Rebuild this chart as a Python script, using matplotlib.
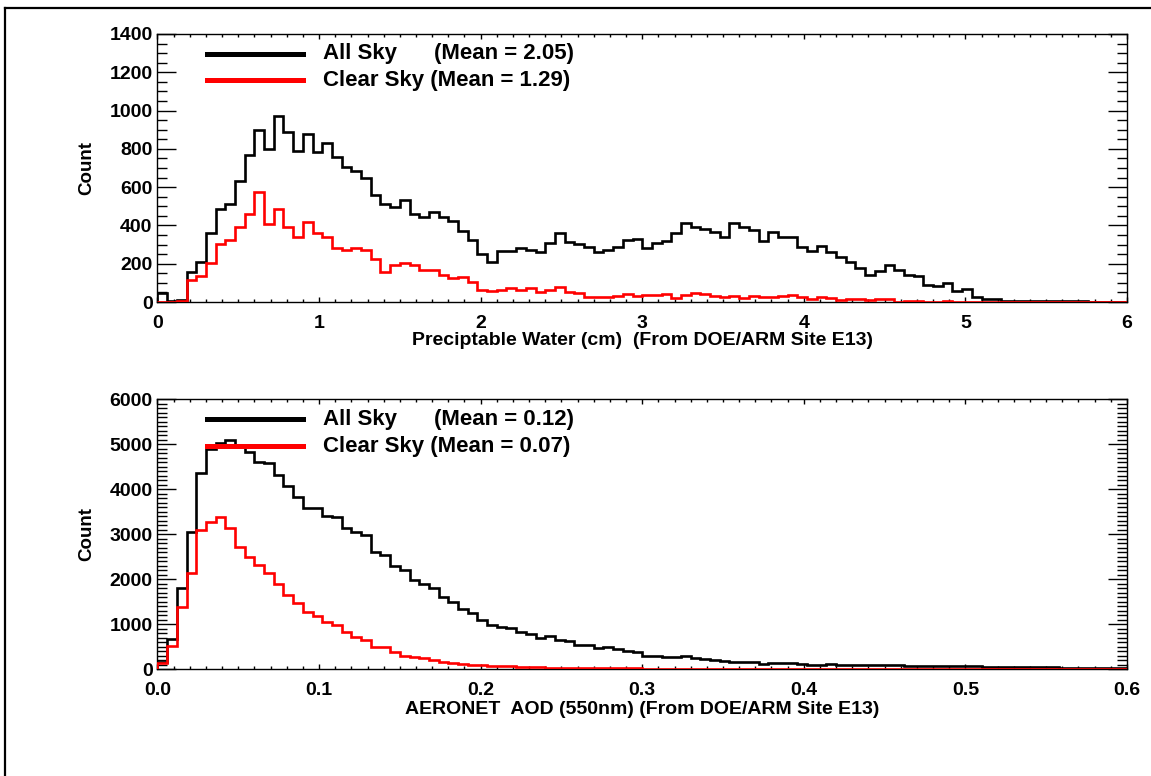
import numpy as np
import matplotlib
matplotlib.use('Agg')
import matplotlib.pyplot as plt
import matplotlib.lines as mlines
from matplotlib.ticker import MultipleLocator, FormatStrFormatter

#%%

# histogram counts (100 bins each)

pw_range = [0, 6]
pw_all = [47, 5, 12, 156, 211, 358, 485, 511, 632, 767,
          899, 798, 973, 890, 788, 880, 783, 831, 757, 705,
          684, 650, 561, 514, 497, 532, 462, 445, 468, 442,
          424, 371, 324, 251, 211, 266, 266, 280, 272, 263,
          310, 359, 315, 301, 289, 263, 272, 289, 324, 329,
          280, 306, 319, 362, 411, 390, 380, 367, 341, 411,
          390, 376, 319, 367, 341, 341, 289, 268, 292, 259,
          237, 211, 179, 141, 162, 193, 167, 141, 136, 89,
          84, 97, 59, 66, 24, 14, 16, 7, 5, 5,
          4, 4, 4, 3, 3, 3, 2, 2, 2, 1]
pw_clr = [0, 0, 7, 116, 137, 206, 301, 324, 393, 462,
          575, 410, 485, 390, 341, 416, 362, 341, 281, 272,
          281, 272, 223, 159, 191, 206, 191, 165, 165, 142,
          128, 133, 107, 64, 59, 63, 71, 63, 75, 54,
          63, 80, 54, 45, 24, 24, 28, 33, 40, 33,
          37, 37, 42, 19, 37, 45, 40, 33, 28, 33,
          19, 33, 28, 28, 33, 37, 24, 14, 28, 23,
          10, 17, 17, 10, 14, 14, 2, 7, 7, 2,
          2, 3, 2, 2, 1, 1, 2, 1, 1, 1,
          1, 1, 0, 0, 1, 0, 0, 0, 0, 0]

aod_range = [0, 0.6]
aod_all = [170, 667, 1800, 3044, 4355, 4896, 5037, 5096, 4948, 4837,
           4615, 4578, 4318, 4074, 3837, 3592, 3578, 3407, 3393, 3133,
           3044, 2985, 2615, 2541, 2304, 2207, 1985, 1889, 1800, 1615,
           1504, 1333, 1244, 1100, 990, 948, 911, 837, 785, 689,
           741, 652, 622, 541, 533, 481, 504, 444, 415, 385,
           304, 289, 267, 267, 296, 244, 222, 207, 193, 170,
           170, 156, 126, 141, 133, 133, 119, 89, 96, 111,
           105, 100, 98, 95, 92, 90, 86, 84, 80, 78,
           75, 72, 70, 66, 64, 60, 58, 55, 52, 50,
           48, 45, 42, 40, 38, 36, 35, 33, 32, 30]
aod_clr = [133, 518, 1378, 2148, 3096, 3267, 3378, 3133, 2726, 2489,
           2318, 2133, 1889, 1652, 1467, 1281, 1185, 1059, 985, 837,
           726, 652, 504, 489, 393, 296, 267, 244, 207, 156,
           133, 111, 96, 85, 80, 74, 65, 59, 52, 45,
           40, 37, 33, 30, 28, 26, 24, 22, 20, 18,
           16, 15, 14, 13, 12, 11, 10, 9, 9, 8,
           8, 7, 7, 6, 6, 5, 5, 5, 4, 4,
           4, 4, 3, 3, 3, 3, 3, 2, 2, 2,
           2, 2, 2, 2, 1, 1, 1, 1, 1, 1,
           1, 1, 1, 1, 1, 0, 0, 0, 0, 0]

pw_labels = ['All Sky', '(Mean = 2.05)', 'Clear Sky (Mean = 1.29)']
aod_labels = ['All Sky', '(Mean = 0.12)', 'Clear Sky (Mean = 0.07)']

#%%

plt.rcParams['font.family'] = ['Liberation Sans', 'DejaVu Sans']
plt.rcParams['font.weight'] = 'bold'

fig = plt.figure(figsize=(11.51, 7.76), dpi=100)

ax1 = fig.add_axes([0.1368, 0.6108, 0.8423, 0.3454])
ax2 = fig.add_axes([0.1368, 0.1375, 0.8423, 0.3479])


def panel(ax, all_sky, clr_sky, xr, ymax, xmaj, xmin, ymaj, ymin, xfmt,
          labels, xlabel, xlab_y):
    edges = np.linspace(xr[0], xr[1], len(all_sky) + 1)
    ax.stairs(all_sky, edges, color='black', linewidth=1.9, zorder=2)
    ax.stairs(clr_sky, edges, color='red', linewidth=1.9, zorder=3)

    ax.set_xlim(xr)
    ax.set_ylim(0, ymax)

    ax.xaxis.set_major_locator(MultipleLocator(xmaj))
    ax.xaxis.set_minor_locator(MultipleLocator(xmin))
    ax.yaxis.set_major_locator(MultipleLocator(ymaj))
    ax.yaxis.set_minor_locator(MultipleLocator(ymin))
    ax.xaxis.set_major_formatter(FormatStrFormatter(xfmt))

    ax.tick_params(axis='both', which='both', direction='in',
                   top=True, right=True, labelsize=14, width=1, color='black')
    ax.tick_params(axis='y', which='major', length=13.7, pad=3.5)
    ax.tick_params(axis='y', which='minor', length=6.9)
    ax.tick_params(axis='x', which='major', length=3.9, pad=9)
    ax.tick_params(axis='x', which='minor', length=2)
    for lab in ax.get_xticklabels() + ax.get_yticklabels():
        lab.set_fontweight('bold')
    for s in ax.spines.values():
        s.set_linewidth(1)

    ax.set_ylabel('Count', fontsize=13.5, fontweight='bold')
    ax.yaxis.set_label_coords(-0.064, 0.5)
    ax.set_xlabel(xlabel, fontsize=14, fontweight='bold', va='top')
    ax.xaxis.set_label_coords(0.5, xlab_y)

    # hand drawn legend like the IDL original
    ax.add_line(mlines.Line2D([0.0507, 0.150], [0.927, 0.927],
                              transform=ax.transAxes, color='black',
                              linewidth=3.6, zorder=5))
    ax.add_line(mlines.Line2D([0.0507, 0.150], [0.827, 0.827],
                              transform=ax.transAxes, color='red',
                              linewidth=3.6, zorder=5))
    ax.text(0.171, 0.927, labels[0], transform=ax.transAxes, fontsize=16,
            fontweight='bold', va='center', zorder=6)
    ax.text(0.285, 0.927, labels[1], transform=ax.transAxes, fontsize=16,
            fontweight='bold', va='center', zorder=6)
    ax.text(0.171, 0.827, labels[2], transform=ax.transAxes, fontsize=16,
            fontweight='bold', va='center', zorder=6)


panel(ax1, pw_all, pw_clr, pw_range, 1400, 1, 0.1, 200, 50, '%d',
      pw_labels, 'Preciptable Water (cm)  (From DOE/ARM Site E13)', -0.112)
panel(ax2, aod_all, aod_clr, aod_range, 6000, 0.1, 0.01, 1000, 100, '%.1f',
      aod_labels, 'AERONET  AOD (550nm) (From DOE/ARM Site E13)', -0.118)

# frame on the top and left edge of the page
fig.add_artist(mlines.Line2D([0.0043, 1.0], [0.9897, 0.9897], color='black',
                             linewidth=1.6, transform=fig.transFigure))
fig.add_artist(mlines.Line2D([0.0043, 0.0043], [0.0, 0.9897], color='black',
                             linewidth=1.6, transform=fig.transFigure))

fig.savefig('out.png', dpi=100, facecolor='white')
